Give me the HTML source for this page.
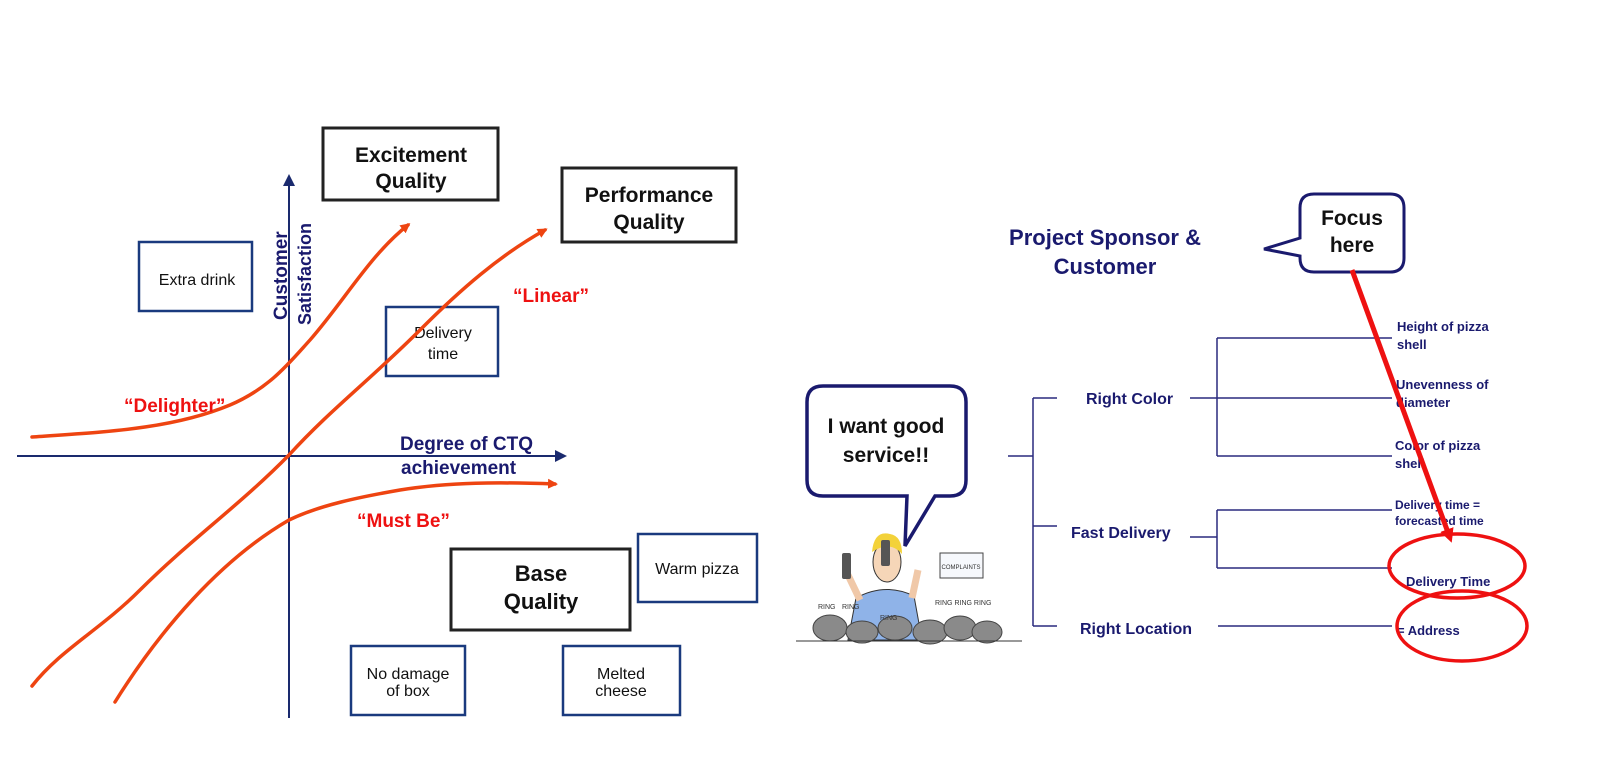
<!DOCTYPE html>
<html><head><meta charset="utf-8"><style>
html,body{margin:0;padding:0;background:#fff;}
svg{display:block;}
text{font-family:"Liberation Sans",sans-serif;}
</style></head><body>
<svg width="1600" height="777" viewBox="0 0 1600 777" xmlns="http://www.w3.org/2000/svg">
<defs>
<marker id="ao" markerWidth="10" markerHeight="10" refX="7" refY="5" orient="auto" markerUnits="userSpaceOnUse"><path d="M0,0 L10,5 L0,10 Z" fill="#ee4411"/></marker>
<marker id="an" markerWidth="12" markerHeight="12" refX="8" refY="6" orient="auto" markerUnits="userSpaceOnUse"><path d="M0,0 L12,6 L0,12 Z" fill="#1a2a6e"/></marker>
<marker id="ar" markerWidth="14" markerHeight="14" refX="9" refY="7" orient="auto" markerUnits="userSpaceOnUse"><path d="M0,0 L14,7 L0,14 Z" fill="#ee1111"/></marker>
</defs>

<g fill="none" stroke="#222" stroke-width="3">
<rect x="323" y="128" width="175" height="72"/>
<rect x="562" y="168" width="174" height="74"/>
<rect x="451" y="549" width="179" height="81"/>
</g>
<g font-weight="bold" font-size="21" fill="#111" text-anchor="middle">
<text x="411" y="162">Excitement</text><text x="411" y="188">Quality</text>
<text x="649" y="202">Performance</text><text x="649" y="229">Quality</text>
<text x="541" y="581" font-size="22">Base</text><text x="541" y="609" font-size="22">Quality</text>
</g>
<g fill="none" stroke="#1a3a7e" stroke-width="2.5">
<rect x="139" y="242" width="113" height="69"/>
<rect x="386" y="307" width="112" height="69"/>
<rect x="638" y="534" width="119" height="68"/>
<rect x="351" y="646" width="114" height="69"/>
<rect x="563" y="646" width="117" height="69"/>
</g>
<g font-size="16" fill="#111" text-anchor="middle">
<text x="197" y="285">Extra drink</text>
<text x="443" y="338">Delivery</text><text x="443" y="359">time</text>
<text x="697" y="574">Warm pizza</text>
<text x="408" y="679">No damage</text><text x="408" y="696">of box</text>
<text x="621" y="679">Melted</text><text x="621" y="696">cheese</text>
</g>

<line x1="289" y1="718" x2="289" y2="178" stroke="#1a2a6e" stroke-width="2" marker-end="url(#an)"/>
<line x1="17" y1="456" x2="563" y2="456" stroke="#1a2a6e" stroke-width="2" marker-end="url(#an)"/>
<g font-weight="bold" font-size="19" fill="#1a1a6e">
<text transform="translate(287,320) rotate(-90)">Customer</text>
<text transform="translate(311,325) rotate(-90)" font-size="18">Satisfaction</text>
<text x="400" y="450">Degree of CTQ</text>
<text x="401" y="474">achievement</text>
</g>

<g fill="none" stroke="#ee4411" stroke-width="3.5" stroke-linecap="round">
<path d="M32,437 C100,432 170,430 230,405 C270,388 290,362 310,340 C345,300 370,255 408,225" marker-end="url(#ao)"/>
<path d="M32,686 C60,650 100,630 140,590 C190,540 240,505 289,455 C330,410 370,380 420,330 C460,290 500,255 545,230" marker-end="url(#ao)"/>
<path d="M115,702 C160,630 220,560 289,520 C320,505 360,497 400,490 C450,482 500,482 555,484" marker-end="url(#ao)"/>
</g>
<g font-weight="bold" font-size="19" fill="#ee1111">
<text x="124" y="412">“Delighter”</text>
<text x="513" y="302">“Linear”</text>
<text x="357" y="527">“Must Be”</text>
</g>

<g font-weight="bold" font-size="22" fill="#1a1a6e" text-anchor="middle">
<text x="1105" y="245">Project Sponsor &amp;</text>
<text x="1105" y="274">Customer</text>
</g>
<path d="M1314,194 L1390,194 Q1404,194 1404,208 L1404,258 Q1404,272 1390,272 L1314,272 Q1300,272 1300,258 L1300,256 L1264,249 L1300,238 L1300,208 Q1300,194 1314,194 Z" fill="#fff" stroke="#1a1a6e" stroke-width="3"/>
<g font-weight="bold" font-size="21" fill="#111" text-anchor="middle">
<text x="1352" y="225">Focus</text><text x="1352" y="252">here</text>
</g>

<g fill="none" stroke="#2a2a7e" stroke-width="1.5">
<path d="M1008,456 H1033 M1033,398 V626 M1033,398 H1057 M1033,526 H1057 M1033,626 H1057"/>
<path d="M1190,398 H1217 M1217,338 V456 M1217,338 H1392 M1217,398 H1392 M1217,456 H1392"/>
<path d="M1190,537 H1217 M1217,510 V568 M1217,510 H1392 M1217,568 H1392"/>
<path d="M1218,626 H1392"/>
</g>
<g font-weight="bold" font-size="16" fill="#1a1a6e">
<text x="1086" y="404">Right Color</text>
<text x="1071" y="538">Fast Delivery</text>
<text x="1080" y="634">Right Location</text>
</g>
<g font-weight="bold" font-size="13" fill="#1a1a6e">
<text x="1397" y="331">Height of pizza</text><text x="1397" y="349">shell</text>
<text x="1396" y="389">Unevenness of</text><text x="1396" y="407">diameter</text>
<text x="1395" y="450">Color of pizza</text><text x="1395" y="468">shell</text>
<text x="1395" y="509" font-size="12">Delivery time =</text><text x="1395" y="525" font-size="12">forecasted time</text>
<text x="1406" y="586">Delivery Time</text>
<text x="1397" y="635">= Address</text>
</g>
<line x1="1352" y1="270" x2="1450" y2="538" stroke="#ee1111" stroke-width="5" marker-end="url(#ar)"/>
<g fill="none" stroke="#ee1111" stroke-width="3.5">
<ellipse cx="1457" cy="566" rx="68" ry="32"/>
<ellipse cx="1462" cy="626" rx="65" ry="35"/>
</g>

<path d="M823,386 L950,386 Q966,386 966,402 L966,480 Q966,496 950,496 L935,496 L905,546 L907,496 L823,496 Q807,496 807,480 L807,402 Q807,386 823,386 Z" fill="#fff" stroke="#1a1a6e" stroke-width="3.5"/>
<g font-weight="bold" font-size="21" fill="#111" text-anchor="middle">
<text x="886" y="433">I want good</text><text x="886" y="462">service!!</text>
</g>

<g>
<path d="M856,598 Q885,582 914,596 L922,640 L848,640 Z" fill="#8fb3e8" stroke="#333" stroke-width="1"/>
<path d="M860,600 L848,575 M912,598 L918,570" stroke="#f0c8a8" stroke-width="7" fill="none"/>
<ellipse cx="887" cy="562" rx="14" ry="20" fill="#f6d6b8" stroke="#333" stroke-width="1"/>
<path d="M872,552 Q874,530 890,534 Q902,536 902,554 Q890,540 872,552 Z" fill="#f3d23a"/>
<rect x="842" y="553" width="9" height="26" rx="2" fill="#555"/>
<rect x="881" y="540" width="9" height="26" rx="2" fill="#555"/>
<rect x="940" y="553" width="43" height="25" fill="#f6f8fc" stroke="#444" stroke-width="1"/>
<text x="961" y="569" font-size="6" text-anchor="middle" fill="#333">COMPLAINTS</text>
<g fill="#8a8a8a" stroke="#444" stroke-width="1">
<ellipse cx="830" cy="628" rx="17" ry="13"/>
<ellipse cx="862" cy="632" rx="16" ry="11"/>
<ellipse cx="895" cy="628" rx="17" ry="12"/>
<ellipse cx="930" cy="632" rx="17" ry="12"/>
<ellipse cx="960" cy="628" rx="16" ry="12"/>
<ellipse cx="987" cy="632" rx="15" ry="11"/>
</g>
<g font-size="7" fill="#333">
<text x="818" y="609">RING</text><text x="842" y="609">RING</text>
<text x="880" y="620">RING</text><text x="935" y="605">RING RING RING</text>
</g>
<line x1="796" y1="641" x2="1022" y2="641" stroke="#333" stroke-width="1"/>
</g>
</svg>
</body></html>
